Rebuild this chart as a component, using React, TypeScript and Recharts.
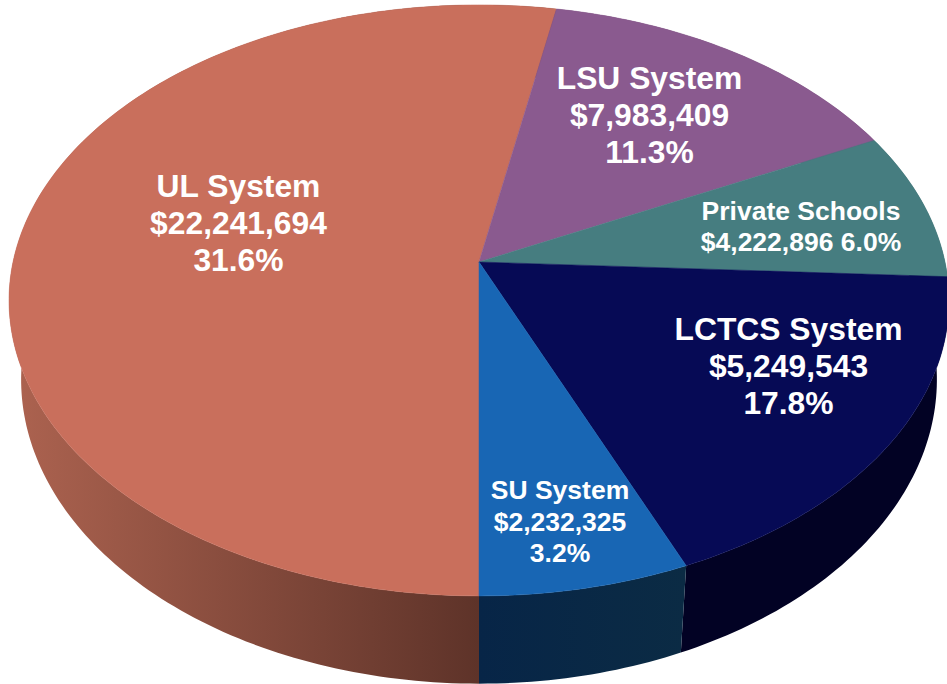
import React from "react";
import { PieChart, Pie } from "recharts";

const names = ["UL System", "LSU System", "Private Schools", "LCTCS System", "SU System"];
const amounts = ["$22,241,694", "$7,983,409", "$4,222,896", "$5,249,543", "$2,232,325"];
const percents = ["31.6%", "11.3%", "6.0%", "17.8%", "3.2%"];
// Share of the circle each slice takes in the picture
const shares = [53.0, 14.7, 8.1, 17.8, 6.4];

const topColors = ["#C96F5C", "#8A5A8F", "#467D80", "#060A55", "#1866B4"];
const wallFrom = ["#AD6350", "#6B4670", "#36615F", "#020224", "#072547"];
const wallTo = ["#5E3329", "#6B4670", "#36615F", "#020224", "#0B2B44"];

const table = names.map((name, i) => ({
  name,
  value: shares[i],
  amount: amounts[i],
  percent: percents[i],
  fill: topColors[i],
  wallFrom: wallFrom[i],
  wallTo: wallTo[i],
}));

const WIDTH = 947;
const HEIGHT = 684;
const CX = 479;
const CY = 262;
const R = 466;
const TILT = 290.5 / 466; // vertical squash of the disc
const PERSP = 0.13; // perspective strength
const LOWER = { x: 454 / 466, y: 299 / 290.5, dy: 78 };

const RAD = Math.PI / 180;

function project(cx: number, cy: number, r: number, deg: number, lower: boolean) {
  const u = Math.cos(deg * RAD);
  const v = -Math.sin(deg * RAD);
  const d = 1 - PERSP * v;
  const sx = lower ? LOWER.x : 1;
  const sy = lower ? LOWER.y : 1;
  const oy = lower ? LOWER.dy : 0;
  return [cx + (r * sx * u) / d, cy + oy + (r * TILT * sy * v) / d];
}

function arc(cx: number, cy: number, r: number, a0: number, a1: number, lower: boolean) {
  const n = Math.max(2, Math.ceil(Math.abs(a1 - a0)));
  const pts: number[][] = [];
  for (let i = 0; i <= n; i++) pts.push(project(cx, cy, r, a0 + ((a1 - a0) * i) / n, lower));
  return pts;
}

const toPath = (pts: number[][]) =>
  pts.map((p, i) => `${i ? "L" : "M"}${p[0].toFixed(2)},${p[1].toFixed(2)}`).join(" ") + " Z";

function TopShape(props: any) {
  const { cx, cy, outerRadius, startAngle, endAngle, fill } = props;
  const pts = [[cx, cy], ...arc(cx, cy, outerRadius, startAngle, endAngle, false)];
  return <path d={toPath(pts)} fill={fill} stroke={fill} strokeWidth={0.5} />;
}

function WallShape(props: any) {
  const { cx, cy, outerRadius, startAngle, endAngle, index, payload } = props;
  const row = payload?.payload ?? payload ?? table[index];
  const top = arc(cx, cy, outerRadius, startAngle, endAngle, false);
  const bottom = arc(cx, cy, outerRadius, endAngle, startAngle, true);
  const xs = [...top, ...bottom].map((p) => p[0]);
  const id = `wall-${index}`;
  const fromLeft = index === 0;
  return (
    <g>
      <defs>
        <linearGradient
          id={id}
          gradientUnits="userSpaceOnUse"
          x1={fromLeft ? Math.min(...xs) : cx}
          x2={fromLeft ? cx : Math.max(...xs)}
          y1={0}
          y2={0}
        >
          <stop offset="0%" stopColor={row.wallFrom} />
          <stop offset="100%" stopColor={row.wallTo} />
        </linearGradient>
      </defs>
      <path d={toPath([...top, ...bottom])} fill={`url(#${id})`} />
    </g>
  );
}

// Text placement per slice: centre x, first baseline, font size, line step, lines
const labelLayout = [
  { x: 238.5, y: 197, size: 31.8, step: 37, joined: false },
  { x: 649.5, y: 89, size: 31.8, step: 37, joined: false },
  { x: 801, y: 220, size: 26.5, step: 31, joined: true },
  { x: 788.5, y: 340, size: 31.8, step: 37, joined: false },
  { x: 560, y: 499, size: 26.5, step: 31.5, joined: false },
];

function SliceLabel(props: any) {
  const { index } = props;
  const l = labelLayout[index];
  const row = table[index];
  const lines = l.joined
    ? [row.name, `${row.amount} ${row.percent}`]
    : [row.name, row.amount, row.percent];
  return (
    <text
      textAnchor="middle"
      fill="#FFFFFF"
      fontFamily="'Liberation Sans', Arial, sans-serif"
      fontWeight="bold"
      fontSize={l.size}
    >
      {lines.map((t, i) => (
        <tspan key={i} x={l.x} y={l.y + i * l.step}>
          {t}
        </tspan>
      ))}
    </text>
  );
}

export default function App() {
  return (
    <div style={{ position: "absolute", left: 0, top: 0, width: WIDTH, height: HEIGHT, overflow: "hidden" }}>
      <PieChart width={WIDTH} height={HEIGHT} margin={{ top: 0, right: 0, bottom: 0, left: 0 }}>
        <Pie
          data={table}
          dataKey="value"
          nameKey="name"
          cx={CX}
          cy={CY}
          innerRadius={0}
          outerRadius={R}
          startAngle={-90}
          endAngle={-450}
          stroke="none"
          isAnimationActive={false}
          shape={WallShape}
          legendType="none"
        />
        <Pie
          data={table}
          dataKey="value"
          nameKey="name"
          cx={CX}
          cy={CY}
          innerRadius={0}
          outerRadius={R}
          startAngle={-90}
          endAngle={-450}
          stroke="none"
          isAnimationActive={false}
          shape={TopShape}
          label={SliceLabel}
          labelLine={false}
          legendType="none"
        />
      </PieChart>
    </div>
  );
}
